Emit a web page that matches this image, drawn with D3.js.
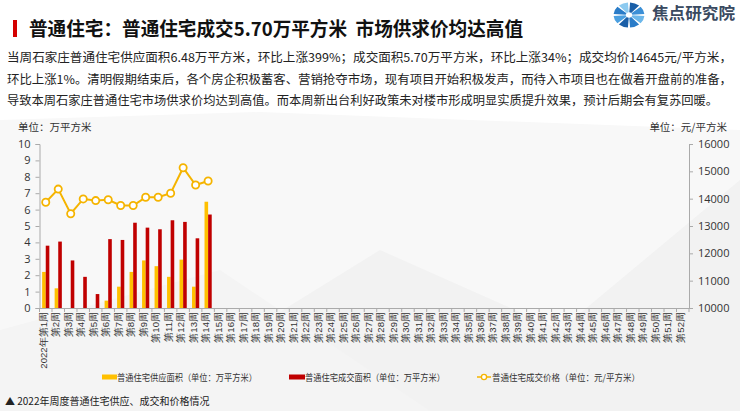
<!DOCTYPE html>
<html><head><meta charset="utf-8">
<script src="https://cdn.jsdelivr.net/npm/d3@7/dist/d3.min.js"></script>
<style>
body{margin:0;background:#fff;}
svg{display:block;font-family:"Noto Sans CJK SC","Noto Sans",sans-serif;}
</style></head>
<body><svg id="c" width="740" height="411"></svg>
<script>
const weeks = d3.range(1, 53).map(i => (i === 1 ? "2022年第1周" : "第" + i + "周"));
const supply = [2.2, 1.2, 0, 0, 0, 0.45, 1.3, 2.2, 2.9, 2.55, 1.9, 2.95, 1.3, 6.48];
const deal = [3.8, 4.05, 2.9, 1.9, 0.85, 4.2, 4.15, 5.2, 4.9, 4.8, 5.35, 5.25, 4.25, 5.70];
const price = [13870, 14350, 13450, 13990, 13930, 13960, 13750, 13750, 14050, 14050, 14200, 15130, 14500, 14645];
const leftTicks = [0,1,2,3,4,5,6,7,8,9,10];
const rightTicks = [10000,11000,12000,13000,14000,15000,16000];
const titleText = "普通住宅：普通住宅成交5.70万平方米\u00a0\u00a0市场供求价均达高值";
const paraLines = [
 "当周石家庄普通住宅供应面积6.48万平方米，环比上涨399%；成交面积5.70万平方米，环比上涨34%；成交均价14645元/平方米，",
 "环比上涨1%。清明假期结束后，各个房企积极蓄客、营销抢夺市场，现有项目开始积极发声，而待入市项目也在做着开盘前的准备，",
 "导致本周石家庄普通住宅市场供求价均达到高值。而本周新出台利好政策未对楼市形成明显实质提升效果，预计后期会有复苏回暖。"
];
const legendLabels = ["普通住宅供应面积（单位：万平方米）","普通住宅成交面积（单位：万平方米）","普通住宅成交价格（单位：元/平方米）"];
const caption = "▲ 2022年周度普通住宅供应、成交和价格情况";

const YEL = "#FFC000", RED = "#C00000", LINE = "#F5B400";
const svg = d3.select("#c");

// background decoration
const bg = svg.append("g");
bg.append("rect").attr("width",740).attr("height",411).attr("fill","#ffffff");
bg.append("path").attr("d","M0,120 L260,112 L740,130 L740,411 L0,411Z").attr("fill","#f8f8f8");
bg.append("path").attr("d","M120,411 L380,250 L560,330 L740,180 L740,411Z").attr("fill","#f2f2f2");
bg.append("path").attr("d","M0,330 L220,270 L430,411 L0,411Z").attr("fill","#f4f4f4");

// header
svg.append("rect").attr("x",13).attr("y",20).attr("width",4).attr("height",17).attr("fill","#D40000");
svg.append("text").attr("x",29).attr("y",36).attr("font-size",19).attr("font-weight","bold").attr("fill","#111")
  .attr("textLength",494).attr("lengthAdjust","spacingAndGlyphs").text(titleText);

// logo
const logo = svg.append("g").attr("transform","translate(629,15)");
const arc = d3.arc().innerRadius(3).outerRadius(14);
const segs = 8;
const blues = ["#1a5fa8","#3b8fd6","#6cb7ea","#2a7cc8","#1a5fa8","#4a9fe0","#2a7cc8","#8ccaf0"];
for (let i=0;i<segs;i++){
  logo.append("path").attr("d", arc({startAngle: i*2*Math.PI/segs + 0.07, endAngle:(i+1)*2*Math.PI/segs - 0.07}))
    .attr("fill", blues[i]).attr("transform","scale(1.1,0.9)");
}
svg.append("text").attr("x",652).attr("y",19).attr("font-size",16).attr("font-weight","bold").attr("fill","#3a4a60")
  .attr("textLength",83).attr("lengthAdjust","spacingAndGlyphs").text("焦点研究院");

// paragraph
svg.append("g").selectAll("text").data(paraLines).join("text")
  .attr("x",7).attr("y",(d,i)=>62+i*21.7).attr("font-size",12.2).attr("fill","#222")
  .attr("textLength",(d,i)=> i===2 ? 711 : 725).attr("lengthAdjust","spacingAndGlyphs").text(d=>d);

// chart
const x0 = 39.5, x1 = 689, yTop = 144, yBot = 308;
const x = d3.scaleBand().domain(weeks).range([x0,x1]).padding(0);
const yL = d3.scaleLinear().domain([0,10]).range([yBot,yTop]);
const yR = d3.scaleLinear().domain([10000,16000]).range([yBot,yTop]);

svg.append("text").attr("x",18).attr("y",131).attr("font-size",10.5).attr("fill","#333").text("单位：万平方米");
svg.append("text").attr("x",727).attr("y",131).attr("text-anchor","end").attr("font-size",10.5).attr("fill","#333").text("单位：元/平方米");

const axL = svg.append("g").attr("transform",`translate(${x0},0)`)
  .call(d3.axisLeft(yL).tickValues(leftTicks).tickSize(4).tickPadding(5).tickFormat(d3.format("d")));
const axR = svg.append("g").attr("transform",`translate(${x1},0)`)
  .call(d3.axisRight(yR).tickValues(rightTicks).tickSize(4).tickPadding(5).tickFormat(d3.format("d")));
[axL,axR].forEach(a=>{
  a.select(".domain").attr("stroke","#aaa");
  a.selectAll(".tick line").attr("stroke","#aaa");
  a.selectAll("text").attr("font-size",11).attr("fill","#333").attr("font-family","'Open Sans','Noto Sans',sans-serif");
});

const axX = svg.append("g").attr("transform",`translate(0,${yBot})`)
  .call(d3.axisBottom(x).tickSize(0).tickPadding(4));
axX.select(".domain").attr("stroke","#aaa");
axX.selectAll(".tick line").remove();
axX.selectAll(".tick text").attr("font-size",9.6).attr("fill","#333")
  .attr("transform","rotate(-90)").attr("text-anchor","end").attr("dx","-4").attr("dy","-0.15em")
  .attr("x",0).attr("y",0).style("dominant-baseline","middle");
// band separators
svg.append("g").selectAll("line").data(weeks.concat(["__end"])).join("line")
  .attr("x1",(d,i)=>x0+i*x.bandwidth()).attr("x2",(d,i)=>x0+i*x.bandwidth())
  .attr("y1",yBot).attr("y2",yBot+4).attr("stroke","#aaa");

const bw = 3.6;
svg.append("g").selectAll("rect").data(supply).join("rect")
  .attr("x",(d,i)=>x(weeks[i])+x.bandwidth()/2-bw).attr("width",bw)
  .attr("y",d=>yL(d)).attr("height",d=>yBot-yL(d)).attr("fill",YEL);
svg.append("g").selectAll("rect").data(deal).join("rect")
  .attr("x",(d,i)=>x(weeks[i])+x.bandwidth()/2).attr("width",bw)
  .attr("y",d=>yL(d)).attr("height",d=>yBot-yL(d)).attr("fill",RED);

const line = d3.line().x((d,i)=>x(weeks[i])+x.bandwidth()/2).y(d=>yR(d));
svg.append("path").datum(price).attr("d",line).attr("fill","none").attr("stroke",LINE).attr("stroke-width",2);
svg.append("g").selectAll("circle").data(price).join("circle")
  .attr("cx",(d,i)=>x(weeks[i])+x.bandwidth()/2).attr("cy",d=>yR(d)).attr("r",3.6)
  .attr("fill","#fff").attr("stroke",LINE).attr("stroke-width",1.8);

// legend
const lg = svg.append("g");
lg.append("rect").attr("x",102).attr("y",374.5).attr("width",15).attr("height",5).attr("fill",YEL);
lg.append("text").attr("x",117).attr("y",381).attr("font-size",9).attr("fill","#333")
  .attr("textLength",140).attr("lengthAdjust","spacingAndGlyphs").text(legendLabels[0]);
lg.append("rect").attr("x",289).attr("y",374.5).attr("width",16).attr("height",5).attr("fill",RED);
lg.append("text").attr("x",305).attr("y",381).attr("font-size",9).attr("fill","#333")
  .attr("textLength",140).attr("lengthAdjust","spacingAndGlyphs").text(legendLabels[1]);
lg.append("line").attr("x1",477).attr("x2",491).attr("y1",377).attr("y2",377).attr("stroke",LINE).attr("stroke-width",1.5);
lg.append("circle").attr("cx",484).attr("cy",377).attr("r",2.6).attr("fill","#fff").attr("stroke",LINE).attr("stroke-width",1.3);
lg.append("text").attr("x",492).attr("y",381).attr("font-size",9).attr("fill","#333")
  .attr("textLength",148).attr("lengthAdjust","spacingAndGlyphs").text(legendLabels[2]);

svg.append("text").attr("x",5).attr("y",405).attr("font-size",10).attr("fill","#222").text(caption);
</script></body></html>
